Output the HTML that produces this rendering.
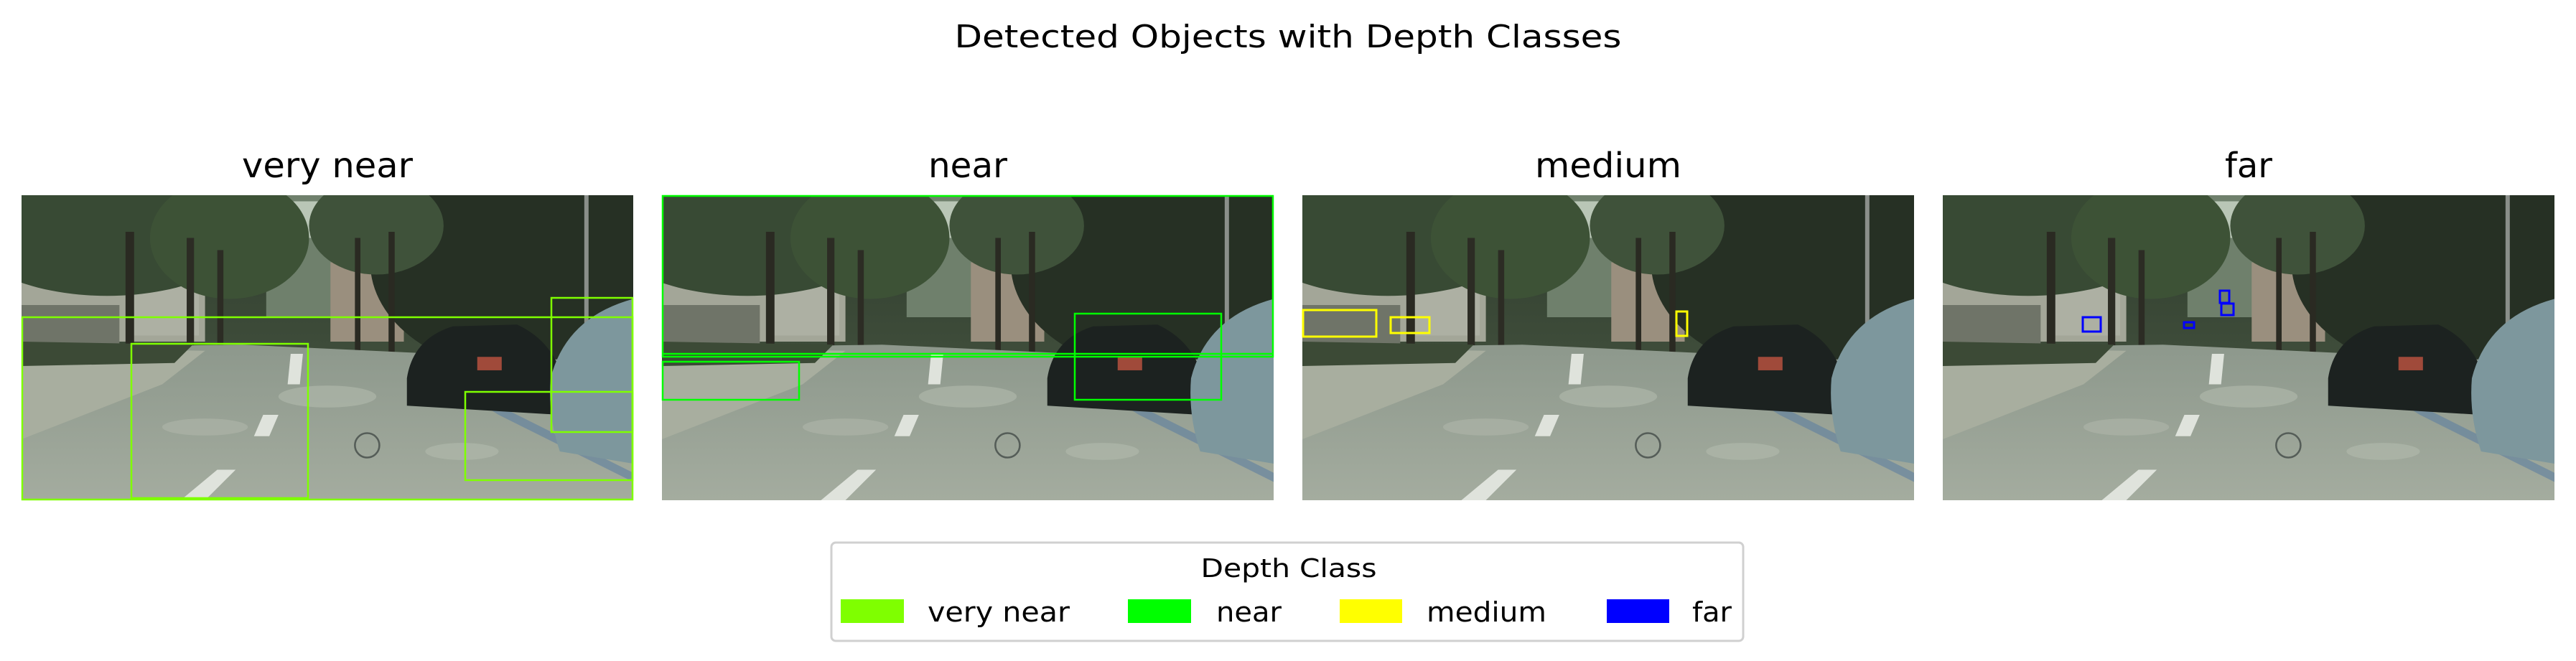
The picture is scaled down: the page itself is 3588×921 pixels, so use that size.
<!DOCTYPE html>
<html><head><meta charset="utf-8"><style>
html,body{margin:0;padding:0;background:#fff;width:3588px;height:921px;overflow:hidden}
svg{display:block}
text{font-family:"DejaVu Sans","Liberation Sans",sans-serif;fill:#000}
</style></head><body>
<svg width="3588" height="921" viewBox="0 0 3588 921" xmlns="http://www.w3.org/2000/svg">
<defs>
<linearGradient id="sky" x1="0" y1="0" x2="0" y2="1">
<stop offset="0" stop-color="#2e3c2c"/><stop offset="0.5" stop-color="#3e4c3a"/><stop offset="1" stop-color="#4a5648"/>
</linearGradient>
<linearGradient id="road" x1="0" y1="0" x2="0" y2="1">
<stop offset="0" stop-color="#8d988c"/><stop offset="1" stop-color="#a4ac9f"/>
</linearGradient>
<symbol id="scene" viewBox="0 0 1000 500" preserveAspectRatio="none">
<rect width="1000" height="500" fill="url(#sky)"/>
<rect x="400" y="0" width="130" height="200" fill="#6f806c"/>
<rect x="440" y="10" width="50" height="60" fill="#b9c6b6"/>
<rect x="0" y="130" width="300" height="110" fill="#a3a698"/>
<rect x="0" y="180" width="160" height="70" fill="#6f7468"/>
<rect x="505" y="110" width="120" height="130" fill="#9a8f7e"/>
<rect x="180" y="140" width="110" height="90" fill="#adb0a3"/>
<ellipse cx="140" cy="50" rx="240" ry="115" fill="#384a34"/>
<ellipse cx="340" cy="70" rx="130" ry="100" fill="#3d5236"/>
<ellipse cx="820" cy="110" rx="250" ry="180" fill="#263024"/>
<ellipse cx="580" cy="50" rx="110" ry="80" fill="#3f523a"/>
<rect x="170" y="60" width="14" height="230" fill="#2a2a22"/>
<rect x="270" y="70" width="12" height="210" fill="#2c2c24"/>
<rect x="320" y="90" width="10" height="190" fill="#2c2c24"/>
<rect x="545" y="70" width="9" height="200" fill="#2a2a22"/>
<rect x="600" y="60" width="10" height="210" fill="#2a2a22"/>
<rect x="920" y="0" width="7" height="300" fill="#8a8f8a"/>
<polygon points="0,250 360,245 1000,275 1000,500 0,500" fill="url(#road)"/>
<polygon points="0,250 300,255 230,310 0,400" fill="#a8ae9f"/>
<polygon points="0,240 280,245 250,275 0,280" fill="#3c4a36"/>
<ellipse cx="500" cy="330" rx="80" ry="18" fill="#b3baae" opacity="0.6"/>
<ellipse cx="720" cy="420" rx="60" ry="14" fill="#b3baae" opacity="0.6"/>
<ellipse cx="300" cy="380" rx="70" ry="14" fill="#b3baae" opacity="0.5"/>
<polygon points="440,260 460,260 455,310 435,310" fill="#dfe3dc"/>
<polygon points="395,360 420,360 405,395 380,395" fill="#dfe3dc"/>
<polygon points="320,450 350,450 300,500 260,500" fill="#dfe3dc"/>
<polygon points="700,310 780,360 1000,470 1000,455 790,350" fill="#5e7fa0" opacity="0.6"/>
<path d="M630,300 Q640,235 705,215 L810,212 Q860,235 880,285 L880,360 L630,345 Z" fill="#1c2220"/>
<rect x="745" y="265" width="40" height="22" fill="#a04a3a"/>
<path d="M865,300 Q890,200 1000,170 L1000,440 L880,420 Q860,360 865,300 Z" fill="#7d979d"/>
<circle cx="565" cy="410" r="20" fill="none" stroke="#555d58" stroke-width="3"/>
</symbol>
</defs>

<text x="1794" y="66" font-size="44" text-anchor="middle" textLength="929" lengthAdjust="spacingAndGlyphs">Detected Objects with Depth Classes</text>

<text x="456" y="247" font-size="48" text-anchor="middle" textLength="238" lengthAdjust="spacingAndGlyphs">very near</text>
<text x="1348" y="247" font-size="48" text-anchor="middle" textLength="110" lengthAdjust="spacingAndGlyphs">near</text>
<text x="2240" y="247" font-size="48" text-anchor="middle" textLength="204" lengthAdjust="spacingAndGlyphs">medium</text>
<text x="3132" y="247" font-size="48" text-anchor="middle" textLength="66" lengthAdjust="spacingAndGlyphs">far</text>

<g transform="translate(30,272)">
<use href="#scene" x="0" y="0" width="852" height="425"/>
<g fill="none" stroke="#7fff00" stroke-width="2.5">
<rect x="1" y="170" width="850" height="254"/>
<rect x="153" y="207" width="246" height="215"/>
<rect x="618" y="274" width="233" height="123"/>
<rect x="738" y="143" width="113" height="187"/>
</g>
</g>

<g transform="translate(922,272)">
<use href="#scene" x="0" y="0" width="852" height="425"/>
<g fill="none" stroke="#00ff00" stroke-width="2.5">
<rect x="1" y="1" width="850" height="224"/>
<line x1="0" y1="221" x2="852" y2="221"/>
<rect x="1" y="232" width="190" height="53"/>
<rect x="575" y="165" width="204" height="120"/>
</g>
</g>

<g transform="translate(1814,272)">
<use href="#scene" x="0" y="0" width="852" height="425"/>
<g fill="none" stroke="#ffff00" stroke-width="3">
<rect x="1" y="160" width="102" height="37"/>
<rect x="123" y="170" width="54" height="22"/>
<rect x="521" y="162" width="15" height="34"/>
</g>
</g>

<g transform="translate(2706,272)">
<use href="#scene" x="0" y="0" width="852" height="425"/>
<g fill="none" stroke="#0000ff" stroke-width="3">
<rect x="195" y="170" width="25" height="20"/>
<rect x="336" y="177" width="14" height="8"/>
<rect x="386" y="133" width="13" height="17"/>
<rect x="388" y="151" width="17" height="16"/>
</g>
</g>

<rect x="1158" y="756" width="1270" height="137" rx="6" fill="#fff" stroke="#d0d0d0" stroke-width="3"/>
<text x="1795" y="804" font-size="36" text-anchor="middle" textLength="245" lengthAdjust="spacingAndGlyphs">Depth Class</text>
<rect x="1171" y="835" width="88" height="33" fill="#7fff00"/>
<text x="1292" y="866" font-size="38" textLength="198" lengthAdjust="spacingAndGlyphs">very near</text>
<rect x="1571" y="835" width="88" height="33" fill="#00ff00"/>
<text x="1694" y="866" font-size="38" textLength="91" lengthAdjust="spacingAndGlyphs">near</text>
<rect x="1866" y="835" width="87" height="33" fill="#ffff00"/>
<text x="1987" y="866" font-size="38" textLength="167" lengthAdjust="spacingAndGlyphs">medium</text>
<rect x="2238" y="835" width="87" height="33" fill="#0000ff"/>
<text x="2357" y="866" font-size="38" textLength="55" lengthAdjust="spacingAndGlyphs">far</text>
</svg>
</body></html>
